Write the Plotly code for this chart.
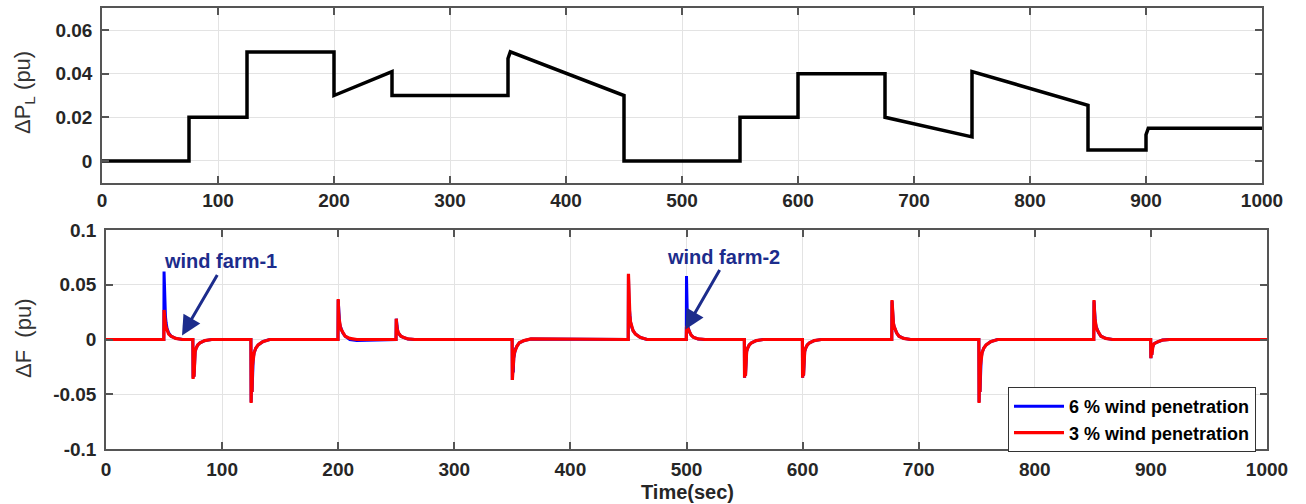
import plotly.graph_objects as go

# ---------------- data ----------------
# Load disturbance (top panel)
t_load = [0, 75, 75, 125, 125, 200, 200, 250, 250, 350, 350, 352, 450, 450,
          550, 550, 600, 600, 675, 675, 750, 750, 850, 850, 900, 900, 902, 1000]
p_load = [0, 0, 0.02, 0.02, 0.05, 0.05, 0.03, 0.041, 0.03, 0.03, 0.047, 0.05, 0.03, 0,
          0, 0.02, 0.02, 0.04, 0.04, 0.02, 0.011, 0.041, 0.0255, 0.005, 0.005, 0.012, 0.015, 0.015]

# Frequency deviation (bottom panel)
t_freq = [0,
          49.8, 50, 50.4, 50.8, 51.2, 51.8, 52.6, 54, 56, 60, 66,
          74.8, 75, 75.4, 75.8, 76.2, 76.8, 77.6, 79, 81, 85, 91,
          124.8, 125, 125.4, 125.8, 126.2, 126.8, 127.6, 129, 131, 135, 141,
          199.8, 200, 200.4, 200.8, 201.2, 201.8, 202.6, 204, 206, 210, 216,
          249.8, 250, 250.4, 250.8, 251.2, 251.8, 252.6, 254, 256, 260, 266,
          349.8, 350, 350.4, 350.8, 351.2, 351.8, 352.6, 354, 356, 360, 366,
          449.8, 450, 450.4, 450.8, 451.2, 451.8, 452.6, 454, 456, 460, 466,
          499.8, 500, 500.4, 500.8, 501.2, 501.8, 502.6, 504, 506, 510, 516,
          549.8, 550, 550.4, 550.8, 551.2, 551.8, 552.6, 554, 556, 560, 566,
          599.8, 600, 600.4, 600.8, 601.2, 601.8, 602.6, 604, 606, 610, 616,
          676.8, 677, 677.4, 677.8, 678.2, 678.8, 679.6, 681, 683, 687, 693,
          751.8, 752, 752.4, 752.8, 753.2, 753.8, 754.6, 756, 758, 762, 768,
          850.8, 851, 851.4, 851.8, 852.2, 852.8, 853.6, 855, 857, 861, 867,
          899.8, 900, 900.4, 900.8, 901.2, 901.8, 902.6, 904, 906, 910, 916,
          1000]

df_wind6 = [0,
            0, 0.062, 0.040, 0.028, 0.021, 0.015, 0.010, 0.006, 0.003, 0.001, 0,
            0, -0.035, -0.020, -0.034, -0.015, -0.011, -0.008, -0.005, -0.003, -0.001, 0,
            0, -0.057, -0.030, -0.048, -0.024, -0.017, -0.012, -0.008, -0.005, -0.002, 0,
            0, 0.036, 0.025, 0.019, 0.015, 0.012, 0.009, 0.006, 0.003, 0.000, -0.001,
            0, 0.019, 0.013, 0.010, 0.008, 0.006, 0.005, 0.003, 0.002, 0.0005, 0,
            0, -0.037, -0.022, -0.030, -0.017, -0.012, -0.009, -0.006, -0.003, -0.001, 0.0005,
            0, 0.059, 0.036, 0.028, 0.022, 0.016, 0.012, 0.008, 0.005, 0.002, 0,
            0, 0.058, 0.024, 0.016, 0.012, 0.009, 0.007, 0.004, 0.002, 0.0005, 0,
            0, -0.035, -0.020, -0.033, -0.015, -0.011, -0.008, -0.005, -0.003, -0.001, 0,
            0, -0.035, -0.020, -0.033, -0.015, -0.011, -0.008, -0.005, -0.003, -0.001, 0,
            0, 0.035, 0.025, 0.019, 0.015, 0.012, 0.009, 0.006, 0.003, 0.001, 0,
            0, -0.057, -0.030, -0.048, -0.024, -0.017, -0.012, -0.008, -0.005, -0.002, 0,
            0, 0.035, 0.025, 0.019, 0.015, 0.012, 0.009, 0.006, 0.003, 0.001, 0,
            0, -0.017, -0.010, -0.014, -0.008, -0.006, -0.004, -0.003, -0.002, -0.0005, 0,
            0]

df_wind3 = [0,
            0, 0.027, 0.021, 0.017, 0.014, 0.011, 0.008, 0.005, 0.003, 0.001, 0,
            0, -0.036, -0.020, -0.034, -0.015, -0.011, -0.008, -0.005, -0.003, -0.001, 0,
            0, -0.058, -0.030, -0.048, -0.024, -0.017, -0.012, -0.008, -0.005, -0.002, 0,
            0, 0.037, 0.025, 0.019, 0.015, 0.012, 0.009, 0.006, 0.003, 0.001, 0,
            0, 0.019, 0.013, 0.010, 0.008, 0.006, 0.005, 0.003, 0.002, 0.0005, 0,
            0, -0.037, -0.022, -0.030, -0.017, -0.012, -0.009, -0.006, -0.003, -0.001, 0.0005,
            0, 0.060, 0.036, 0.028, 0.022, 0.016, 0.012, 0.008, 0.005, 0.002, 0,
            0, 0.011, 0.012, 0.011, 0.010, 0.008, 0.006, 0.004, 0.002, 0.0005, 0,
            0, -0.035, -0.020, -0.033, -0.015, -0.011, -0.008, -0.005, -0.003, -0.001, 0,
            0, -0.035, -0.020, -0.033, -0.015, -0.011, -0.008, -0.005, -0.003, -0.001, 0,
            0, 0.036, 0.025, 0.019, 0.015, 0.012, 0.009, 0.006, 0.003, 0.001, 0,
            0, -0.058, -0.030, -0.048, -0.024, -0.017, -0.012, -0.008, -0.005, -0.002, 0,
            0, 0.036, 0.025, 0.019, 0.015, 0.012, 0.009, 0.006, 0.003, 0.001, 0,
            0, -0.017, -0.010, -0.014, -0.008, -0.006, -0.004, -0.003, -0.002, -0.0005, 0,
            0]

x_ticks = [0, 100, 200, 300, 400, 500, 600, 700, 800, 900, 1000]
x_tick_text = ["0", "100", "200", "300", "400", "500", "600", "700", "800", "900", "1000"]
y1_ticks = [0, 0.02, 0.04, 0.06]
y1_tick_text = ["0", "0.02", "0.04", "0.06"]
y2_ticks = [-0.1, -0.05, 0, 0.05, 0.1]
y2_tick_text = ["-0.1", "-0.05", "0", "0.05", "0.1"]

series_names = ["6 % wind penetration", "3 % wind penetration"]

# ---------------- figure ----------------
W, H = 1306, 504
FONT = "Liberation Sans"
TXT = "#262626"
AX = "#555555"
GRID = "#e3e3e3"

fig = go.Figure()
fig.add_trace(go.Scatter(x=t_load, y=p_load, mode="lines",
                         line=dict(color="black", width=3.5),
                         showlegend=False, xaxis="x", yaxis="y"))
fig.add_trace(go.Scatter(x=t_freq, y=df_wind6, mode="lines", name=series_names[0],
                         line=dict(color="#0000ff", width=3),
                         xaxis="x2", yaxis="y2"))
fig.add_trace(go.Scatter(x=t_freq, y=df_wind3, mode="lines", name=series_names[1],
                         line=dict(color="#ff0000", width=3.2),
                         xaxis="x2", yaxis="y2"))

tickfont = dict(family=FONT, size=19, color=TXT, weight="bold")
common = dict(showline=True, linecolor=AX, linewidth=1.5, mirror="ticks",
              ticks="inside", ticklen=7, tickcolor=AX, tickwidth=1.5,
              showgrid=True, gridcolor=GRID, gridwidth=1, zeroline=False,
              tickfont=tickfont, automargin=False)

fig.update_layout(
    width=W, height=H,
    margin=dict(l=0, r=0, t=0, b=0, pad=0, autoexpand=False),
    paper_bgcolor="white", plot_bgcolor="white",
    xaxis=dict(domain=[102 / W, 1262 / W], range=[0, 1000], anchor="y",
               tickvals=x_ticks, ticktext=x_tick_text, ticklabelstandoff=0, **common),
    yaxis=dict(domain=[(H - 182.7) / H, (H - 8.3) / H], range=[-0.01, 0.07], anchor="x",
               tickvals=y1_ticks, ticktext=y1_tick_text, ticklabelstandoff=4, **common),
    xaxis2=dict(domain=[106 / W, 1267 / W], range=[0, 1000], anchor="y2",
                tickvals=x_ticks, ticktext=x_tick_text, ticklabelstandoff=2, **common),
    yaxis2=dict(domain=[(H - 449) / H, (H - 230) / H], range=[-0.1, 0.1], anchor="x2",
                tickvals=y2_ticks, ticktext=y2_tick_text, ticklabelstandoff=4, **common),
    legend=dict(x=1256 / W, xanchor="right", y=(H - 387) / H, yanchor="top",
                bgcolor="white", bordercolor="#333333", borderwidth=1,
                font=dict(family=FONT, size=18, color="black", weight="bold"),
                traceorder="normal", itemwidth=50, tracegroupgap=0),
    showlegend=True,
)

NAVY = "#1c2c8c"
ann = []
# axis titles
ann.append(dict(text="ΔP<sub>L</sub> (pu)", xref="paper", yref="paper",
                x=24 / W, y=(H - 93) / H, xanchor="center", yanchor="middle",
                showarrow=False, textangle=-90,
                font=dict(family=FONT, size=22, color="#333333")))
ann.append(dict(text="ΔF  (pu)", xref="paper", yref="paper",
                x=23 / W, y=(H - 339) / H, xanchor="center", yanchor="middle",
                showarrow=False, textangle=-90,
                font=dict(family=FONT, size=22, color="#333333")))
ann.append(dict(text="Time(sec)", xref="paper", yref="paper",
                x=687 / W, y=(H - 492) / H, xanchor="center", yanchor="middle",
                showarrow=False,
                font=dict(family=FONT, size=20, color=TXT, weight="bold")))
# wind farm labels
ann.append(dict(text="wind farm-1", xref="x2", yref="y2", x=98.3, y=0.0721,
                xanchor="center", yanchor="middle",
                showarrow=False, font=dict(family=FONT, size=20, color=NAVY, weight="bold")))
ann.append(dict(text="wind farm-2", xref="x2", yref="y2", x=531.9, y=0.0749,
                xanchor="center", yanchor="middle",
                showarrow=False, font=dict(family=FONT, size=20, color=NAVY, weight="bold")))
# arrows
ann.append(dict(text="", xref="x2", yref="y2", x=65.5, y=0.0037,
                axref="x2", ayref="y2", ax=96.6, ay=0.0603, showarrow=True,
                arrowhead=2, arrowsize=1.3, arrowwidth=3, arrowcolor=NAVY, standoff=0))
ann.append(dict(text="", xref="x2", yref="y2", x=499, y=0.0091,
                axref="x2", ayref="y2", ax=529.3, ay=0.0648, showarrow=True,
                arrowhead=2, arrowsize=1.3, arrowwidth=3, arrowcolor=NAVY, standoff=0))
fig.update_layout(annotations=ann)

fig.write_html("out.html", config={"displayModeBar": False},
               post_script="document.body.style.margin='0';document.body.style.overflow='hidden';")
